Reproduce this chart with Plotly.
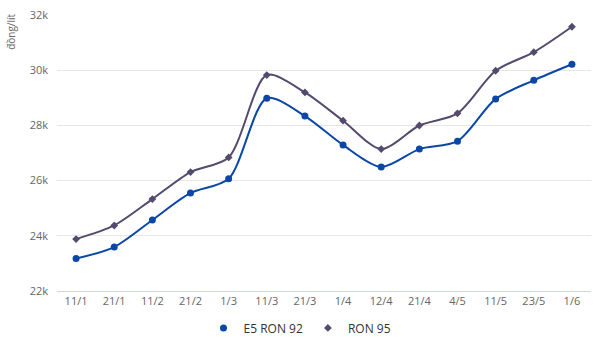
import plotly.graph_objects as go

dates = ["11/1", "21/1", "11/2", "21/2", "1/3", "11/3", "21/3", "1/4",
         "12/4", "21/4", "4/5", "11/5", "23/5", "1/6"]
e5_ron92 = [23176, 23593, 24572, 25552, 26067, 28986, 28338, 27288,
            26493, 27142, 27427, 28960, 29633, 30215]
ron95 = [23880, 24374, 25330, 26310, 26840, 29824, 29196, 28170,
         27143, 27997, 28438, 29980, 30654, 31575]
y_ticks = [22000, 24000, 26000, 28000, 30000, 32000]
y_tick_text = ["22k", "24k", "26k", "28k", "30k", "32k"]

series = [
    ("E5 RON 92", e5_ron92, "#0b47a6", "circle", 7),
    ("RON 95", ron95, "#544a6e", "diamond", 6),
]

fig = go.Figure()
for name, values, color, symbol, size in series:
    fig.add_trace(go.Scatter(
        x=dates, y=values, name=name, mode="lines+markers", showlegend=False,
        line=dict(color=color, width=2, shape="spline", smoothing=0.8),
        marker=dict(symbol=symbol, size=size, color=color),
    ))
# legend entries show only the marker symbol
for name, values, color, symbol, size in series:
    fig.add_trace(go.Scatter(
        x=[None], y=[None], name=name, mode="markers",
        marker=dict(symbol=symbol, size=size, color=color),
    ))

fig.update_layout(
    width=600, height=343,
    margin=dict(l=57, r=9, t=15, b=52),
    paper_bgcolor="white", plot_bgcolor="white",
    font=dict(family="Open Sans, sans-serif", size=11, color="#666666"),
    showlegend=True,
    legend=dict(orientation="h", x=0.5, xanchor="center",
                xref="container", yref="container", y=0.044,
                yanchor="middle", font=dict(size=12, color="#333333"),
                itemwidth=30, tracegroupgap=0),
    xaxis=dict(
        type="category", range=[-0.5, len(dates) - 0.5],
        showgrid=False, showline=True, linecolor="#ccd6eb", linewidth=1,
        ticks="", tickfont=dict(size=11, color="#666666"),
        zeroline=False, automargin=False,
    ),
    yaxis=dict(
        range=[22000, 32000], tickvals=y_ticks, ticktext=y_tick_text,
        showgrid=True, gridcolor="#e6e6e6", gridwidth=1,
        zeroline=False, showline=False, ticks="", ticklabelstandoff=8,
        tickfont=dict(size=11, color="#666666"), automargin=False,
    ),
    annotations=[dict(
        text="đồng/lít", textangle=-90, xref="paper", yref="paper",
        x=-0.085, y=1.01, xanchor="center", yanchor="top",
        showarrow=False, font=dict(size=10, color="#666666"),
    )],
)

fig.write_html("out.html")
